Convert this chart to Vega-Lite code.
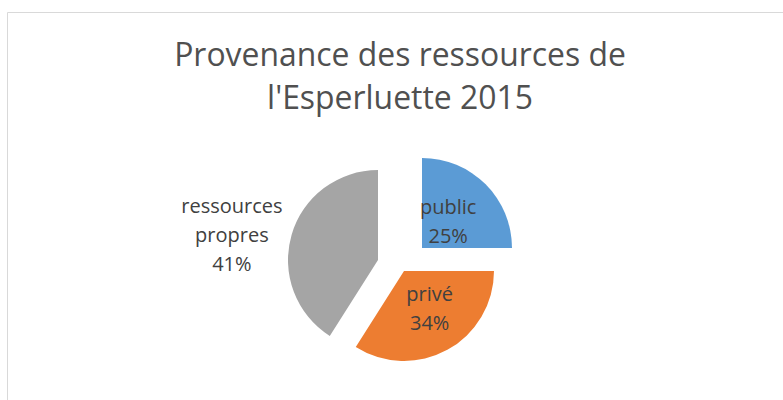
{
  "$schema": "https://vega.github.io/schema/vega-lite/v6.json",
  "width": 776,
  "height": 388,
  "autosize": {"type": "none"},
  "padding": {"left": 7, "top": 12, "right": 0, "bottom": 0},
  "background": "white",
  "view": {"stroke": "#D9D9D9", "strokeWidth": 1},
  "config": {"view": {"stroke": "#D9D9D9", "strokeWidth": 1}},
  "title": {
    "text": ["Provenance des ressources de", "l'Esperluette 2015"],
    "font": "Open Sans",
    "fontSize": 31.9,
    "fontWeight": "normal",
    "color": "#505050",
    "anchor": "middle",
    "orient": "top",
    "offset": -104,
    "lineHeight": 43,
    "dx": 5
  },
  "data": {
    "values": [
      {"source": "public", "share": 25, "label": "public\n25%"},
      {"source": "privé", "share": 34, "label": "privé\n34%"},
      {"source": "ressources propres", "share": 41, "label": "ressources\npropres\n41%"}
    ]
  },
  "transform": [{"window": [{"op": "row_number", "as": "idx"}]}],
  "encoding": {
    "theta": {"field": "share", "type": "quantitative", "stack": true},
    "order": {"field": "idx", "type": "quantitative"},
    "color": {
      "field": "source",
      "type": "nominal",
      "scale": {"domain": ["public", "privé", "ressources propres"], "range": ["#5B9BD5", "#ED7D31", "#A5A5A5"]},
      "legend": null
    }
  },
  "layer": [
    {
      "mark": {"type": "arc", "outerRadius": 90, "xOffset": 27, "yOffset": 42},
      "encoding": {"fillOpacity": {"condition": {"test": "datum.source === 'public'", "value": 1}, "value": 0}}
    },
    {
      "mark": {"type": "arc", "outerRadius": 90, "xOffset": 9, "yOffset": 65},
      "encoding": {"fillOpacity": {"condition": {"test": "datum.source === 'privé'", "value": 1}, "value": 0}}
    },
    {
      "mark": {"type": "arc", "outerRadius": 90, "xOffset": -17, "yOffset": 54},
      "encoding": {"fillOpacity": {"condition": {"test": "datum.source === 'ressources propres'", "value": 1}, "value": 0}}
    },
    {
      "mark": {"type": "text", "radius": 37, "xOffset": 27, "yOffset": 28, "font": "Open Sans", "fontSize": 20, "lineHeight": 29, "lineBreak": "\n", "align": "center", "baseline": "middle"},
      "encoding": {
        "text": {"field": "label"},
        "color": {"value": "#404040"},
        "opacity": {"condition": {"test": "datum.source === 'public'", "value": 1}, "value": 0}
      }
    },
    {
      "mark": {"type": "text", "radius": 45, "xOffset": 13, "yOffset": 50, "font": "Open Sans", "fontSize": 20, "lineHeight": 29, "lineBreak": "\n", "align": "center", "baseline": "middle"},
      "encoding": {
        "text": {"field": "label"},
        "color": {"value": "#404040"},
        "opacity": {"condition": {"test": "datum.source === 'privé'", "value": 1}, "value": 0}
      }
    },
    {
      "mark": {"type": "text", "radius": 148, "xOffset": -21, "yOffset": 42, "font": "Open Sans", "fontSize": 20, "lineHeight": 29, "lineBreak": "\n", "align": "center", "baseline": "middle"},
      "encoding": {
        "text": {"field": "label"},
        "color": {"value": "#404040"},
        "opacity": {"condition": {"test": "datum.source === 'ressources propres'", "value": 1}, "value": 0}
      }
    }
  ]
}
